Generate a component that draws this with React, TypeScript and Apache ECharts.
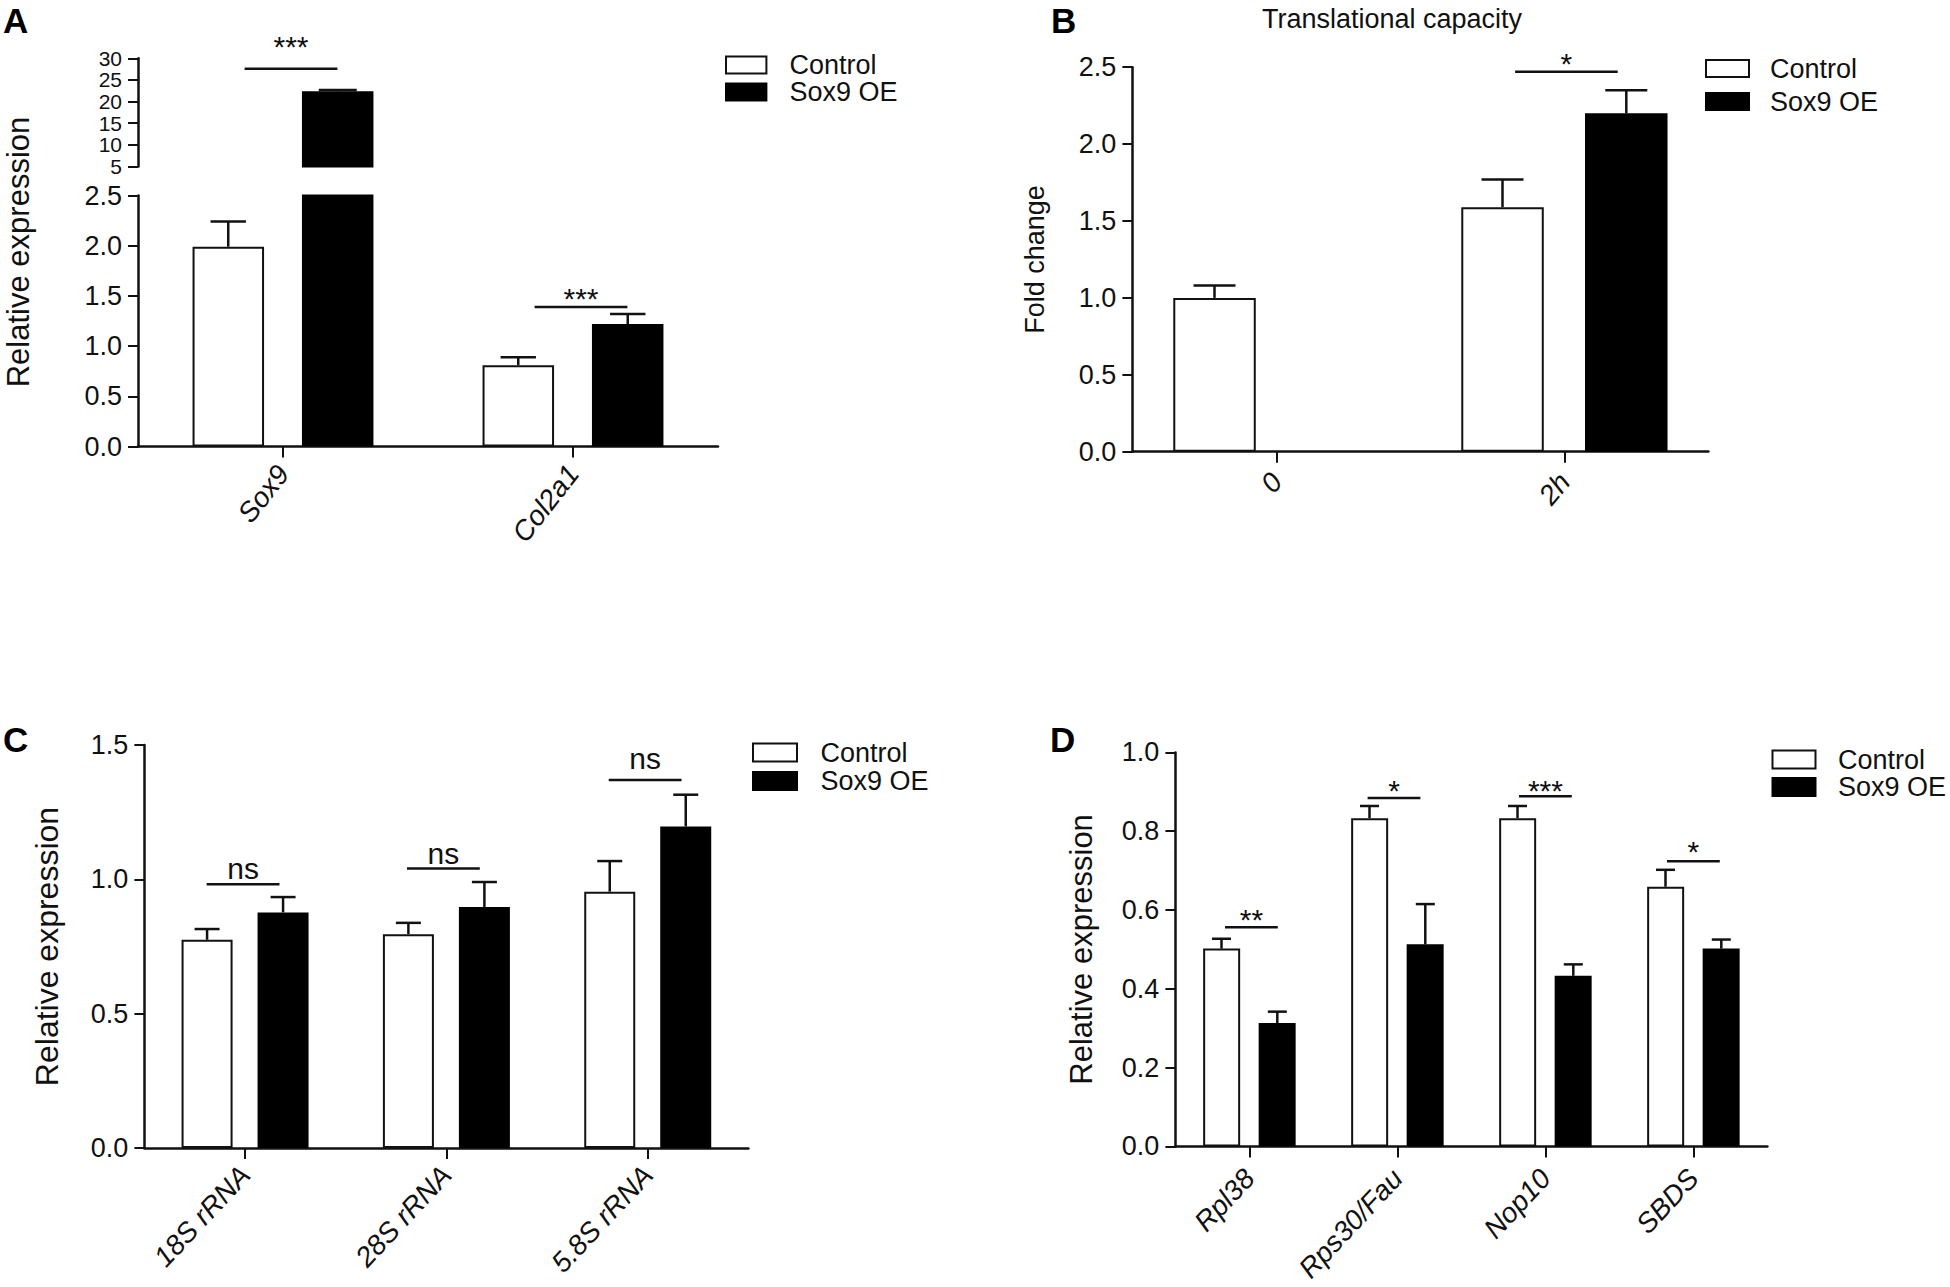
import { useEffect, useRef } from 'react';
import * as echarts from 'echarts';

const FONT = '"Liberation Sans", Arial, sans-serif';
const SERIES_NAMES = ['Control', 'Sox9 OE'];

// panel A
const aCategories = ['Sox9', 'Col2a1'];
const aControl = [1.99, 0.81];
const aControlTop = [2.24, 0.89];
const aOe = [22.4, 1.22];
const aOeTop = [22.7, 1.32];
const aSigLine = [27.6, 1.39];
const aSigLabel = [34.3, 1.54];
const aSigText = ['***', '***'];

// panel B
const bCategories = ['0', '2h'];
const bControl = [1.0, 1.59];
const bControlTop = [1.08, 1.77];
const bOe = [null, 2.2];
const bOeTop = [null, 2.35];
const bSigLine = [null, 2.47];
const bSigLabel = [null, 2.57];
const bSigText = ['', '*'];

// panel C
const cCategories = ['18S rRNA', '28S rRNA', '5.8S rRNA'];
const cControl = [0.775, 0.796, 0.954];
const cControlTop = [0.815, 0.838, 1.068];
const cOe = [0.877, 0.897, 1.197];
const cOeTop = [0.934, 0.99, 1.315];
const cSigLine = [0.982, 1.04, 1.37];
const cSigLabel = [1.04, 1.096, 1.448];
const cSigText = ['ns', 'ns', 'ns'];

// panel D
const dCategories = ['Rpl38', 'Rps30/Fau', 'Nop10', 'SBDS'];
const dControl = [0.502, 0.833, 0.833, 0.659];
const dControlTop = [0.527, 0.864, 0.864, 0.702];
const dOe = [0.313, 0.513, 0.433, 0.502];
const dOeTop = [0.342, 0.615, 0.462, 0.525];
const dSigLine = [0.556, 0.884, 0.889, 0.724];
const dSigLabel = [0.593, 0.922, 0.922, 0.766];
const dSigText = ['**', '*', '***', '*'];

const controlStyle = { color: '#fff', borderColor: '#111', borderWidth: 2 };
const oeStyle = { color: '#000', borderColor: '#000', borderWidth: 2 };

type Num = number | null;

const errorSeries = (
  xi: number,
  shift: number,
  cap: number,
  vals: Num[],
  tops: Num[],
  yMin: number,
  yMax: number
) => ({
  type: 'custom',
  name: 'error',
  xAxisIndex: xi,
  yAxisIndex: xi,
  silent: true,
  z: 1,
  encode: { x: 0, y: [1, 2] },
  data: vals
    .map((v, i) => [i, v, tops[i]])
    .filter(d => d[1] !== null && (d[1] as number) >= yMin && (d[2] as number) <= yMax),
  renderItem: (_: any, api: any) => {
    const a = api.coord([api.value(0), api.value(1)]);
    const b = api.coord([api.value(0), api.value(2)]);
    const x = a[0] + shift;
    const style = { stroke: '#111', lineWidth: 2.5 };
    return {
      type: 'group',
      children: [
        { type: 'line', shape: { x1: x, y1: a[1], x2: x, y2: b[1] }, style },
        { type: 'line', shape: { x1: x - cap, y1: b[1], x2: x + cap, y2: b[1] }, style },
      ],
    };
  },
});

const sigSeries = (
  xi: number,
  half: number,
  shifts: number[],
  lines: Num[],
  labels: Num[],
  texts: string[],
  fontSize: number,
  labelNudge: number
) => ({
  type: 'custom',
  name: 'sig',
  xAxisIndex: xi,
  yAxisIndex: xi,
  silent: true,
  z: 3,
  encode: { x: 0, y: 1 },
  data: lines.map((v, i) => [i, v, labels[i]]).filter(d => d[1] !== null),
  renderItem: (_: any, api: any) => {
    const i = api.value(0);
    const l = api.coord([i, api.value(1)]);
    const t = api.coord([i, api.value(2)]);
    const x = l[0] + shifts[i];
    return {
      type: 'group',
      children: [
        {
          type: 'line',
          shape: { x1: x - half, y1: l[1], x2: x + half, y2: l[1] },
          style: { stroke: '#111', lineWidth: 2.5 },
        },
        {
          type: 'text',
          x,
          y: t[1] + labelNudge,
          style: {
            text: texts[i],
            fontSize,
            fontFamily: FONT,
            fill: '#111',
            textAlign: 'center',
            textVerticalAlign: 'middle',
          },
        },
      ],
    };
  },
});

const xAxisOf = (gi: number, cats: string[], rotate: number, margin: number, show = true) => ({
  type: 'category',
  gridIndex: gi,
  data: cats,
  show,
  axisLine: { show: true, onZero: false, lineStyle: { color: '#111', width: 2.5 } },
  axisTick: { show: true, alignWithLabel: true, length: 11, lineStyle: { color: '#111', width: 2 } },
  axisLabel: {
    show: true,
    interval: 0,
    rotate,
    margin,
    fontSize: 28,
    fontStyle: 'italic',
    fontFamily: FONT,
    color: '#111',
  },
});

const yAxisOf = (
  gi: number,
  min: number,
  max: number,
  interval: number,
  name: string,
  nameGap: number,
  nameSize: number,
  fixed: number,
  labelSize = 27
) => ({
  type: 'value',
  gridIndex: gi,
  min,
  max,
  interval,
  name,
  nameLocation: 'middle',
  nameGap,
  nameTextStyle: { fontSize: nameSize, fontFamily: FONT, color: '#111' },
  splitLine: { show: false },
  axisLine: { show: true, lineStyle: { color: '#111', width: 2.5 } },
  axisTick: { show: true, length: 10, lineStyle: { color: '#111', width: 2 } },
  axisLabel: {
    show: true,
    margin: 16,
    fontSize: labelSize,
    fontFamily: FONT,
    color: '#111',
    showMinLabel: true,
    showMaxLabel: true,
    hideOverlap: false,
    formatter: (v: number) => v.toFixed(fixed),
  },
});

const legendOf = (left: number, top: number, itemWidth: number, itemHeight: number, itemGap: number, pad: number) => ({
  data: SERIES_NAMES,
  orient: 'vertical',
  left,
  top,
  itemWidth,
  itemHeight,
  itemGap,
  padding: 0,
  icon: 'rect',
  selectedMode: false,
  textStyle: { fontSize: 27, fontFamily: FONT, color: '#111', padding: [0, 0, 0, pad] },
});

const barSeries = (gi: number, control: Num[], oe: Num[], barWidth: number, barGap: string) => [
  {
    type: 'bar',
    name: SERIES_NAMES[0],
    xAxisIndex: gi,
    yAxisIndex: gi,
    data: control,
    barWidth,
    barGap,
    itemStyle: controlStyle,
    z: 2,
  },
  {
    type: 'bar',
    name: SERIES_NAMES[1],
    xAxisIndex: gi,
    yAxisIndex: gi,
    data: oe,
    barWidth,
    barGap,
    itemStyle: oeStyle,
    z: 2,
  },
];

const upperMin = 5;
const upperMax = 30;
const lowerMax = 2.5;

const buildOption = () => ({
  animation: false,
  backgroundColor: '#fff',
  textStyle: { fontFamily: FONT },
  grid: [
    { left: 138, top: 195.5, width: 580, height: 251 },
    { left: 138, top: 58.3, width: 580, height: 108.2 },
    { left: 1132.4, top: 67.2, width: 576, height: 384.5 },
    { left: 144.4, top: 745, width: 604, height: 403 },
    { left: 1175.4, top: 752.4, width: 592, height: 394 },
  ],
  xAxis: [
    xAxisOf(0, aCategories, 52, 22),
    xAxisOf(1, aCategories, 52, 22, false),
    xAxisOf(2, bCategories, 50, 25),
    xAxisOf(3, cCategories, 47, 22),
    xAxisOf(4, dCategories, 47, 27),
  ],
  yAxis: [
    yAxisOf(0, 0, lowerMax, 0.5, '', 0, 32, 1),
    yAxisOf(1, upperMin, upperMax, 5, '', 0, 32, 0, 21),
    yAxisOf(2, 0, 2.5, 0.5, 'Fold change', 84, 27, 1),
    yAxisOf(3, 0, 1.5, 0.5, 'Relative expression', 81.5, 32, 1),
    yAxisOf(4, 0, 1, 0.2, 'Relative expression', 78, 31, 1),
  ],
  legend: [
    legendOf(725, 51.5, 40.4, 17, 0, 18),
    legendOf(1705, 55, 43, 17, 6, 16),
    legendOf(752, 739, 44, 18, 1.5, 18.5),
    legendOf(1771.5, 746, 43, 18, 0.5, 17.5),
  ],
  series: [
    // A, lower part of the broken axis
    ...barSeries(0, aControl, aOe, 71.5, '53%'),
    errorSeries(0, -54.75, 17.7, aControl, aControlTop, 0, lowerMax),
    errorSeries(0, 54.75, 17.7, aOe, aOeTop, 0, lowerMax),
    sigSeries(0, 46.4, [0, 8], [null, aSigLine[1]], aSigLabel, aSigText, 30, 7),
    // A, upper part
    ...barSeries(
      1,
      aControl.map(v => (v >= upperMin ? v : null)),
      aOe.map(v => (v >= upperMin ? v : null)),
      71.5,
      '53%'
    ),
    errorSeries(1, 54.75, 19, aOe, aOeTop, upperMin, upperMax),
    sigSeries(1, 46.4, [8, 0], [aSigLine[0], null], aSigLabel, aSigText, 30, 7),
    // B
    ...barSeries(2, bControl, bOe, 82.5, '50%'),
    errorSeries(2, -61.9, 21, bControl, bControlTop, 0, 2.5),
    errorSeries(2, 61.9, 21, bOe, bOeTop, 0, 2.5),
    sigSeries(2, 51.3, [0, 2], bSigLine, bSigLabel, bSigText, 30, 7),
    // C
    ...barSeries(3, cControl, cOe, 51, '49%'),
    errorSeries(3, -38, 12.5, cControl, cControlTop, 0, 1.5),
    errorSeries(3, 38, 12.5, cOe, cOeTop, 0, 1.5),
    sigSeries(3, 36.4, [-2, -3, -2.6], cSigLine, cSigLabel, cSigText, 30, 0),
    // D
    ...barSeries(4, dControl, dOe, 37, '50%'),
    errorSeries(4, -27.9, 9.5, dControl, dControlTop, 0, 1),
    errorSeries(4, 27.9, 9.5, dOe, dOeTop, 0, 1),
    sigSeries(4, 26.4, [2, -3.4, 0, 0], dSigLine, dSigLabel, dSigText, 30, 7),
  ],
  graphic: [
    { type: 'text', x: 3, y: 3, style: { text: 'A', font: `bold 35px ${FONT}`, fill: '#000' } },
    { type: 'text', x: 1051, y: 3, style: { text: 'B', font: `bold 35px ${FONT}`, fill: '#000' } },
    { type: 'text', x: 3, y: 722, style: { text: 'C', font: `bold 35px ${FONT}`, fill: '#000' } },
    { type: 'text', x: 1050, y: 722, style: { text: 'D', font: `bold 35px ${FONT}`, fill: '#000' } },
    {
      type: 'text',
      x: 1392,
      y: 19,
      style: {
        text: 'Translational capacity',
        font: `27px ${FONT}`,
        fill: '#111',
        textAlign: 'center',
        textVerticalAlign: 'middle',
      },
    },
    {
      type: 'text',
      x: 18,
      y: 252,
      rotation: Math.PI / 2,
      style: {
        text: 'Relative expression',
        font: `31px ${FONT}`,
        fill: '#111',
        textAlign: 'center',
        textVerticalAlign: 'middle',
      },
    },
  ],
});

export default function App() {
  const chartRef = useRef<HTMLDivElement>(null);

  useEffect(() => {
    if (!chartRef.current) return;
    const chart = echarts.init(chartRef.current, null, { renderer: 'svg' });
    chart.setOption(buildOption() as any);
    return () => chart.dispose();
  }, []);

  return <div ref={chartRef} style={{ position: 'fixed', left: 0, top: 0, width: 1950, height: 1287 }} />;
}
